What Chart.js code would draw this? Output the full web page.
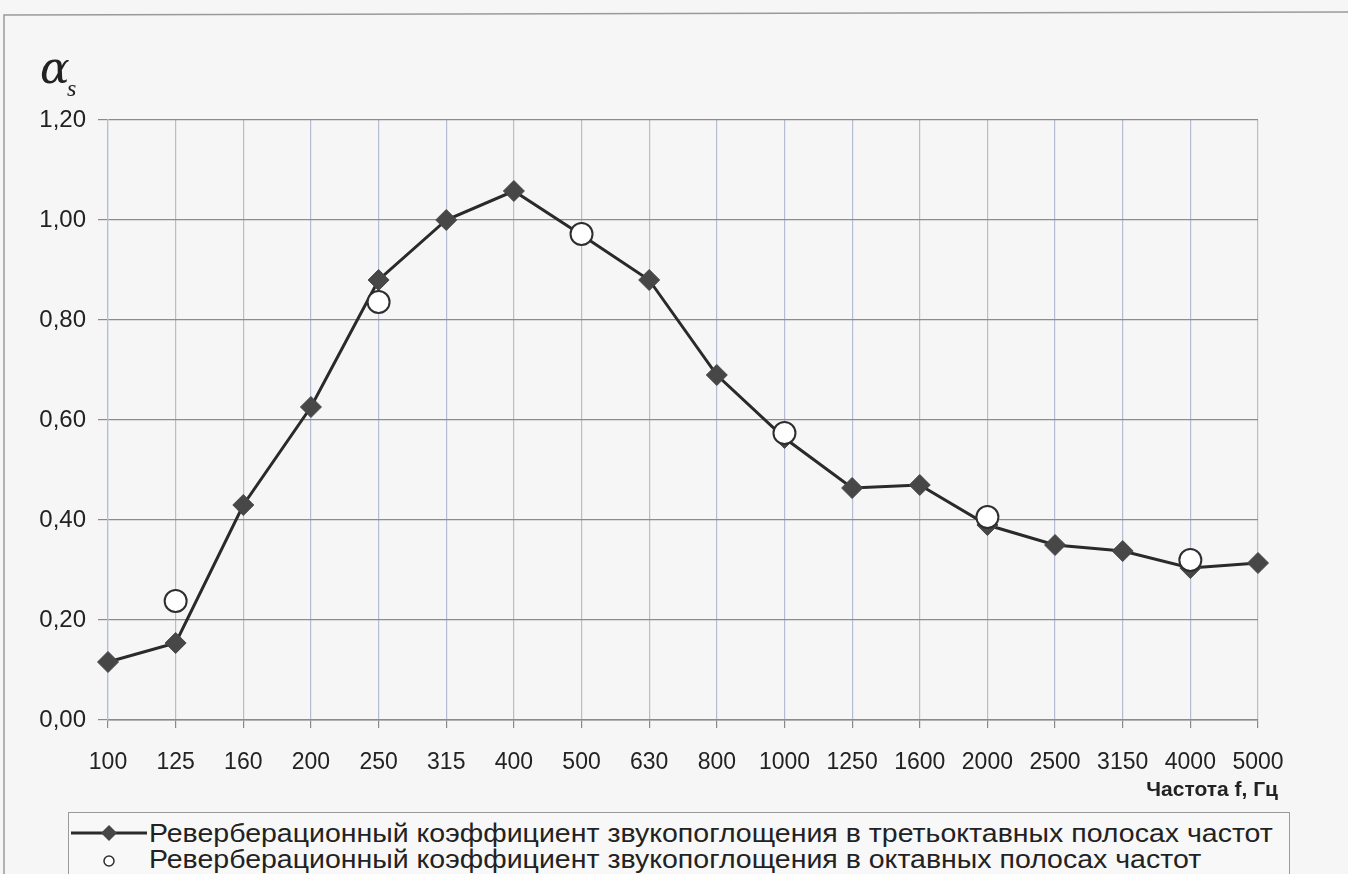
<!DOCTYPE html>
<html>
<head>
<meta charset="utf-8">
<script src="https://cdn.jsdelivr.net/npm/chart.js@4"></script>
<style>
  html, body { margin: 0; padding: 0; background: #f6f6f6; }
  #wrap { position: relative; width: 1348px; height: 874px; overflow: hidden; }
  #legend {
    position: absolute; left: 68px; top: 812px; width: 1222px; height: 80px;
    border: 1px solid #9a9a9a; box-sizing: border-box; background: #f8f8f8;
    font-family: "Liberation Sans", Arial, sans-serif; font-size: 25px; color: #222;
  }
  #legend .row { position: absolute; left: 0; height: 26px; line-height: 26px; white-space: nowrap; }
  #legend canvas { position: absolute; left: 0; top: 0; }
  #legend span { position: absolute; left: 80px; top: 0; transform: scaleX(1.14); transform-origin: 0 50%; }
</style>
</head>
<body>
<div id="wrap">
  <canvas id="chart" width="1348" height="874"></canvas>
  <div id="legend"></div>
</div>
<script>
const frequencies = ['100', '125', '160', '200', '250', '315', '400', '500', '630', '800',
                     '1000', '1250', '1600', '2000', '2500', '3150', '4000', '5000'];
// третьоктавные полосы
const thirdOctave = [0.116, 0.154, 0.43, 0.626, 0.88, 1.0, 1.058, 0.97, 0.88, 0.69,
                     0.564, 0.464, 0.47, 0.39, 0.35, 0.338, 0.304, 0.314];
// октавные полосы
const octave = [null, 0.238, null, null, 0.836, null, null, 0.972, null, null,
                0.574, null, null, 0.406, null, null, 0.32, null];
const yTicks = { min: 0, max: 1.2, step: 0.2 };

const legendLabels = [
  'Реверберационный коэффициент звукопоглощения в третьоктавных полосах частот',
  'Реверберационный коэффициент звукопоглощения в октавных полосах частот'
];

// рамка, подпись оси Y и подпись оси X
const decorations = {
  id: 'decorations',
  beforeDraw(chart) {
    const ctx = chart.ctx;
    ctx.save();
    ctx.strokeStyle = '#9a9a9a';
    ctx.lineWidth = 1.5;
    ctx.beginPath();
    ctx.moveTo(4, 900);
    ctx.lineTo(4, 15);
    ctx.lineTo(1348, 12);
    ctx.stroke();
    ctx.restore();
  },
  afterDraw(chart) {
    const ctx = chart.ctx;
    ctx.save();
    ctx.fillStyle = '#222';
    ctx.textBaseline = 'alphabetic';
    ctx.font = 'italic 44px "DejaVu Serif", serif';
    ctx.fillText('α', 40, 83);
    ctx.font = 'italic 24px "Liberation Serif", "DejaVu Serif", serif';
    ctx.fillText('s', 67, 96);
    ctx.font = 'bold 21px "Liberation Sans", Arial, sans-serif';
    ctx.textAlign = 'right';
    ctx.fillText('Частота f, Гц', 1278, 796);
    ctx.restore();
  }
};

const chart = new Chart(document.getElementById('chart'), {
  type: 'line',
  data: {
    labels: frequencies,
    datasets: [
      {
        label: legendLabels[1],
        data: octave,
        showLine: false,
        pointStyle: 'circle',
        pointRadius: 11,
        pointBackgroundColor: '#ffffff',
        pointBorderColor: '#2e2e2e',
        pointBorderWidth: 2,
        order: 0
      },
      {
        label: legendLabels[0],
        data: thirdOctave,
        borderColor: '#2a2a2a',
        borderWidth: 3,
        tension: 0,
        pointStyle: 'rectRot',
        pointRadius: 10.5,
        pointBackgroundColor: '#474747',
        pointBorderColor: '#474747',
        pointBorderWidth: 1,
        order: 1
      }
    ]
  },
  options: {
    responsive: false,
    animation: false,
    layout: { padding: { left: 8, right: 90, top: 120, bottom: 74 } },
    plugins: { legend: { display: false }, tooltip: { enabled: false } },
    scales: {
      x: {
        offset: false,
        afterFit: s => { s.height = 80; },
        grid: { color: '#b4bdd2', lineWidth: 1.2, tickLength: 8, drawTicks: true, tickColor: '#8a8a8a' },
        border: { color: '#8a8a8a', width: 1.5 },
        ticks: {
          color: '#222', padding: 21, maxRotation: 0, autoSkip: false,
          font: { family: '"Liberation Sans", Arial, sans-serif', size: 23 }
        }
      },
      y: {
        min: yTicks.min,
        max: yTicks.max,
        afterFit: s => { s.width = 100; },
        grid: { color: '#8c8c8c', lineWidth: 1.2, tickLength: 10, tickColor: '#8a8a8a' },
        border: { color: '#b4bdd2', width: 1.2 },
        ticks: {
          stepSize: yTicks.step, color: '#222', padding: 12,
          font: { family: '"Liberation Sans", Arial, sans-serif', size: 24 },
          callback: v => v.toFixed(2).replace('.', ',')
        }
      }
    }
  },
  plugins: [decorations]
});

// легенда из наборов данных
const legend = document.getElementById('legend');
[chart.data.datasets[1], chart.data.datasets[0]].forEach((ds, i) => {
  const row = document.createElement('div');
  row.className = 'row';
  row.style.top = (i === 0 ? 7 : 33) + 'px';
  const c = document.createElement('canvas');
  c.width = 80; c.height = 26;
  const g = c.getContext('2d');
  if (ds.showLine !== false) {
    g.strokeStyle = ds.borderColor; g.lineWidth = 3;
    g.beginPath(); g.moveTo(2, 13); g.lineTo(78, 13); g.stroke();
    g.fillStyle = ds.pointBackgroundColor;
    g.beginPath(); g.moveTo(40, 5); g.lineTo(48, 13); g.lineTo(40, 21); g.lineTo(32, 13); g.closePath(); g.fill();
  } else {
    g.strokeStyle = ds.pointBorderColor; g.lineWidth = 1.5; g.fillStyle = '#fff';
    g.beginPath(); g.arc(40, 15, 5, 0, Math.PI * 2); g.fill(); g.stroke();
  }
  const t = document.createElement('span');
  t.textContent = ds.label;
  row.appendChild(c); row.appendChild(t);
  legend.appendChild(row);
});
</script>
</body>
</html>
